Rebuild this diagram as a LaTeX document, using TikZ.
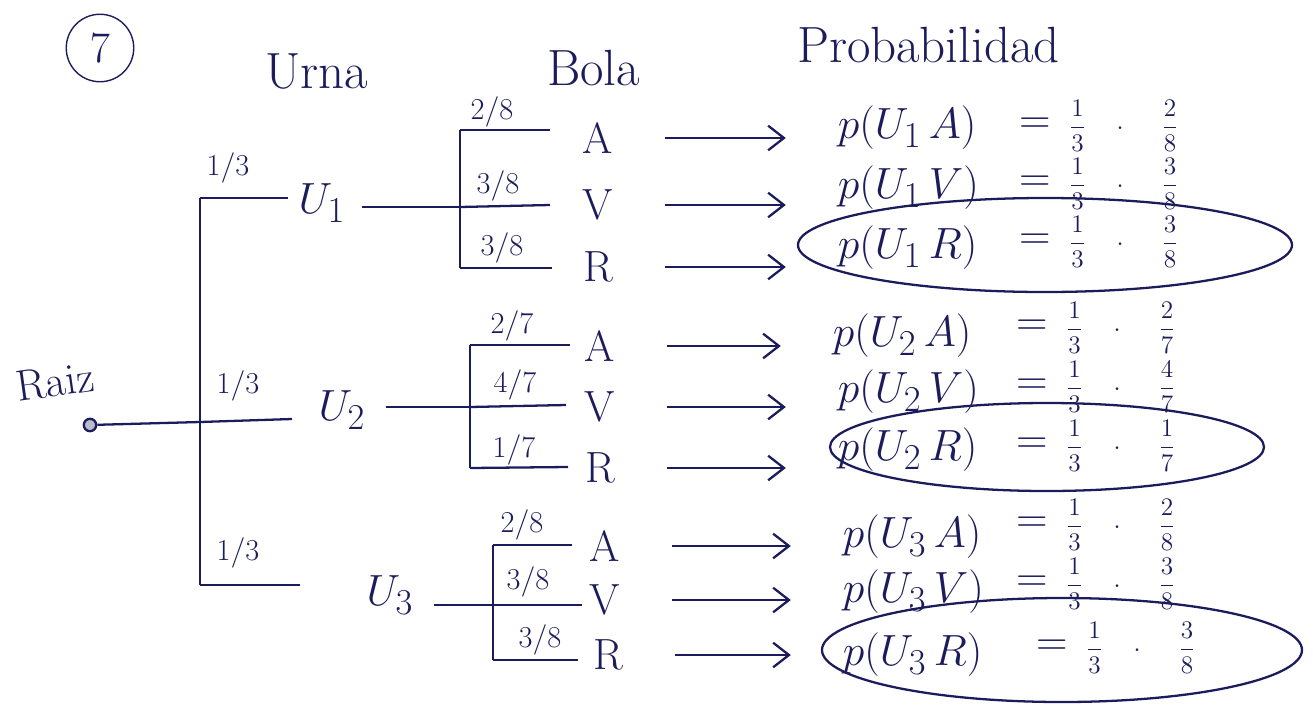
\documentclass[tikz,border=0pt]{standalone}
\usepackage{amsmath}
\usetikzlibrary{arrows.meta}
\definecolor{inkblue}{RGB}{28,28,92}
\begin{document}
\begin{tikzpicture}[x=0.02cm,y=-0.02cm,line width=1.3pt,color=inkblue]
	\tikzstyle{title}=[font=\fontsize{29}{34}\selectfont,anchor=west]
	\tikzstyle{leaf}=[font=\Huge,inner sep=1pt]
	\tikzstyle{frac}=[font=\LARGE,inner sep=1pt]
	\tikzstyle{prob}=[font=\Huge,anchor=west,inner sep=1pt]
	\tikzstyle{value}=[font=\Large,anchor=west,inner sep=0pt]
	\tikzstyle{edge}=[draw=inkblue,line width=1.3pt]
	\tikzstyle{implies}=[draw=inkblue,line width=1.3pt,-{Straight Barb[length=9pt,width=14pt]}]
	\useasboundingbox (0,0) rectangle (1313,711);

	% headings
	\node [circle,draw,thick,font=\Huge,minimum size=1.35cm,inner sep=0pt] (num) at (100,48) {$7$};
	\node [title] (urna) at (258,72) {Urna};
	\node [title] (bola) at (540,68) {Bola};
	\node [title] (probab) at (790,45) {Probabilidad};

	% root and first split
	\node [circle,draw,fill=inkblue!30,inner sep=2.5pt] (root) at (90,425) {};
	\node [font=\Huge,rotate=8] (raiz) at (55,382) {Raiz};
	\coordinate (t1) at (200,198);
	\coordinate (t2) at (200,422);
	\coordinate (t3) at (200,585);
	\coordinate (e1) at (288,198);
	\coordinate (e2) at (292,419);
	\coordinate (e3) at (300,585);
	\path[edge] (root) -- (t2);
	\path[edge] (t1) -- (t3);
	\path[edge] (t1) -- (e1);
	\path[edge] (t2) -- (e2);
	\path[edge] (t3) -- (e3);
	\node [frac] (f1) at (228,168) {$1/3$};
	\node [frac] (f2) at (238,386) {$1/3$};
	\node [frac] (f3) at (238,553) {$1/3$};

	% urns
	\node [leaf] (u1) at (322,203) {$U_1$};
	\node [leaf] (u2) at (342,410) {$U_2$};
	\node [leaf] (u3) at (390,595) {$U_3$};

	% balls of U1
	\coordinate (b1a) at (460,130);
	\coordinate (b1v) at (460,207);
	\coordinate (b1r) at (460,268);
	\path[edge] ([xshift=8pt]u1.east |- b1v) -- (b1v);
	\path[edge] (b1a) -- (b1r);
	\node [leaf] (a1) at (598,138) {A};
	\node [leaf] (v1) at (598,205) {V};
	\node [leaf] (r1) at (598,267) {R};
	\path[edge] (b1a) -- (550,130);
	\path[edge] (b1v) -- (550,205);
	\path[edge] (b1r) -- (552,268);
	\node [frac] at (492,112) {$2/8$};
	\node [frac] at (498,186) {$3/8$};
	\node [frac] at (502,248) {$3/8$};

	% balls of U2
	\coordinate (b2a) at (470,345);
	\coordinate (b2v) at (470,407);
	\coordinate (b2r) at (470,468);
	\path[edge] ([xshift=10pt]u2.east |- b2v) -- (b2v);
	\path[edge] (b2a) -- (b2r);
	\node [leaf] (a2) at (600,346) {A};
	\node [leaf] (v2) at (600,407) {V};
	\node [leaf] (r2) at (600,468) {R};
	\path[edge] (b2a) -- (570,345);
	\path[edge] (b2v) -- (566,405);
	\path[edge] (b2r) -- (568,467);
	\node [frac] at (512,326) {$2/7$};
	\node [frac] at (515,385) {$4/7$};
	\node [frac] at (514,450) {$1/7$};

	% balls of U3
	\coordinate (b3a) at (493,545);
	\coordinate (b3v) at (493,605);
	\coordinate (b3r) at (493,660);
	\path[edge] ([xshift=10pt]u3.east |- b3v) -- (b3v);
	\path[edge] (b3a) -- (b3r);
	\node [leaf] (a3) at (605,546) {A};
	\node [leaf] (v3) at (605,600) {V};
	\node [leaf] (r3) at (608,655) {R};
	\path[edge] (b3a) -- (572,545);
	\path[edge] (b3v) -- (582,605);
	\path[edge] (b3r) -- (578,660);
	\node [frac] at (522,525) {$2/8$};
	\node [frac] at (528,582) {$3/8$};
	\node [frac] at (540,640) {$3/8$};

	% probabilities
	\node [prob] (p1a) at (835,128) {$p(U_1\,A)$};
	\node [prob] (p1v) at (835,188) {$p(U_1\,V)$};
	\node [prob] (p1r) at (835,248) {$p(U_1\,R)$};
	\node [prob] (p2a) at (830,336) {$p(U_2\,A)$};
	\node [prob] (p2v) at (835,392) {$p(U_2\,V)$};
	\node [prob] (p2r) at (835,450) {$p(U_2\,R)$};
	\node [prob] (p3a) at (840,537) {$p(U_3\,A)$};
	\node [prob] (p3v) at (840,592) {$p(U_3\,V)$};
	\node [prob] (p3r) at (840,655) {$p(U_3\,R)$};
	\foreach \n/\x/\y/\num/\den in {1a/1018/126/2/8, 1v/1018/184/3/8, 1r/1018/242/3/8,
	  2a/1015/328/2/7, 2v/1015/387/4/7, 2r/1015/446/1/7,
	  3a/1015/525/2/8, 3v/1015/584/3/8, 3r/1035/648/3/8}{
	  \node [prob,inner sep=0pt] (eq\n) at (\x,\y) {$=$};
	  \node [value] (q\n) at (\x+50,\y) {$\dfrac{1}{3}\quad\cdot\quad\;\dfrac{\num}{\den}$};
	}

	\path[implies] ([xshift=28pt]a1.east) -- ([xshift=-28pt]p1a.west |- a1.east);
	\path[implies] ([xshift=28pt]v1.east) -- ([xshift=-28pt]p1v.west |- v1.east);
	\path[implies] ([xshift=28pt]r1.east) -- ([xshift=-28pt]p1r.west |- r1.east);
	\path[implies] ([xshift=28pt]a2.east) -- ([xshift=-28pt]p2a.west |- a2.east);
	\path[implies] ([xshift=28pt]v2.east) -- ([xshift=-28pt]p2v.west |- v2.east);
	\path[implies] ([xshift=28pt]r2.east) -- ([xshift=-28pt]p2r.west |- r2.east);
	\path[implies] ([xshift=28pt]a3.east) -- ([xshift=-28pt]p3a.west |- a3.east);
	\path[implies] ([xshift=28pt]v3.east) -- ([xshift=-28pt]p3v.west |- v3.east);
	\path[implies] ([xshift=28pt]r3.east) -- ([xshift=-28pt]p3r.west |- r3.east);

	% marked results
	\draw (1045,245) ellipse [x radius=247,y radius=47];
	\draw (1047,447) ellipse [x radius=217,y radius=44];
	\draw (1062,650) ellipse [x radius=240,y radius=52];
\end{tikzpicture}
\end{document}
